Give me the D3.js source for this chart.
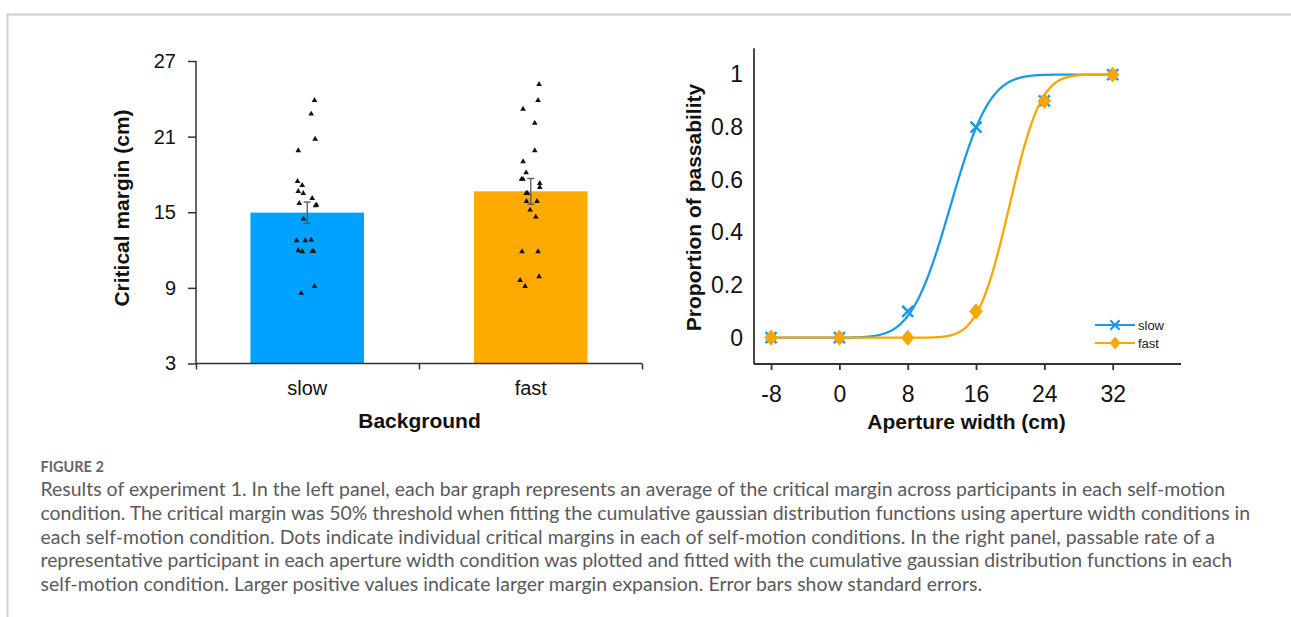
<!DOCTYPE html>
<html><head><meta charset="utf-8">
<script src="https://cdn.jsdelivr.net/npm/d3@7"></script>
<style>body{margin:0;background:#fff} svg{display:block}</style>
</head><body>
<svg id="c" width="1291" height="617"></svg>
<script>
// ---------- data ----------
const categories = ["slow", "fast"];
const meanMargin = [14.97, 16.66];
const seMargin = [0.84, 1.02];
const yTicksLeft = [3, 9, 15, 21, 27];

const slowDots = [23.88, 22.8, 20.8, 19.89, 17.46, 17.14, 16.66, 16.5, 16.1, 15.71, 15.53, 15.58, 14.47, 12.75, 12.75, 12.8, 11.96, 11.88, 11.9, 11.9, 9.13, 8.58];
const slowJitter = [0.064, 0.035, 0.070, -0.079, -0.085, -0.044, -0.079, -0.035, 0.044, -0.070, 0.073, 0.082, -0.033, -0.094, -0.018, 0.035, -0.079, -0.044, 0.044, 0.055, 0.064, -0.053];
const fastDots = [25.15, 23.88, 23.19, 22.08, 19.89, 19.02, 18.14, 17.62, 17.62, 17.3, 16.98, 16.5, 16.5, 15.87, 15.87, 15.18, 14.63, 11.88, 11.88, 9.9, 9.6, 9.13];
const fastJitter = [0.073, 0.064, -0.068, 0.035, 0.035, -0.068, -0.041, -0.082, -0.068, 0.079, 0.079, -0.041, -0.029, -0.038, 0.055, -0.006, 0.044, -0.077, 0.064, 0.073, -0.094, -0.050];

const apertures = [-8, 0, 8, 16, 24, 32];
const slowProp = [0, 0, 0.1, 0.8, 0.9, 1];
const fastProp = [0, 0, 0, 0.1, 0.9, 1];
const fitMean = [13.0, 19.9];   // cumulative gaussian fit: mean (slow, fast)
const fitSD = [3.6, 2.9];       // cumulative gaussian fit: sd (slow, fast)
const xTicksRight = [-8, 0, 8, 16, 24, 32];
const yTicksRight = [0, 0.2, 0.4, 0.6, 0.8, 1];

const captionTitle = "FIGURE 2";
const captionLines = [
  "Results of experiment 1. In the left panel, each bar graph represents an average of the critical margin across participants in each self-motion",
  "condition. The critical margin was 50% threshold when fitting the cumulative gaussian distribution functions using aperture width conditions in",
  "each self-motion condition. Dots indicate individual critical margins in each of self-motion conditions. In the right panel, passable rate of a",
  "representative participant in each aperture width condition was plotted and fitted with the cumulative gaussian distribution functions in each",
  "self-motion condition. Larger positive values indicate larger margin expansion. Error bars show standard errors."
];
const captionRight = [1225, 1250, 1215, 1232, 982];

// ---------- styles ----------
const BLUE_BAR = "#00a2ff", ORANGE_BAR = "#ffaa00";
const BLUE = "#1a9bea", ORANGE = "#f8a600";
const FONT = "'Liberation Sans', Arial, sans-serif";
const svg = d3.select("#c");

// frame
svg.append("path").attr("d", "M7.5,617 V14.5 H1291").attr("fill", "none").attr("stroke", "#cfcfcf").attr("stroke-width", 2);

// ---------- left panel ----------
const yL = d3.scaleLinear().domain([3, 27]).range([363.5, 61]);
const xL = d3.scaleBand().domain(categories).range([196, 642]).paddingInner(0.492).paddingOuter(0.2435);
const xLTick = d3.scaleLinear().domain([0, categories.length]).range([196, 642]);
const bw = xL.bandwidth();
const jit = d3.scaleLinear().domain([-0.5, 0.5]).range([-bw / 2, bw / 2]);
const barColors = [BLUE_BAR, ORANGE_BAR];

const gL = svg.append("g");
gL.selectAll("rect.bar").data(categories).join("rect")
  .attr("x", d => xL(d)).attr("width", bw)
  .attr("y", (d, i) => yL(meanMargin[i])).attr("height", (d, i) => yL(3) - yL(meanMargin[i]))
  .attr("fill", (d, i) => barColors[i]);

// error bars
categories.forEach((c, i) => {
  const cx = xL(c) + bw / 2;
  const g = gL.append("g").attr("stroke", "#555").attr("stroke-width", 1.3).attr("fill", "none");
  g.append("line").attr("x1", cx).attr("x2", cx).attr("y1", yL(meanMargin[i] - seMargin[i])).attr("y2", yL(meanMargin[i] + seMargin[i]));
  [meanMargin[i] - seMargin[i], meanMargin[i] + seMargin[i]].forEach(v => {
    g.append("line").attr("x1", cx - 3.5).attr("x2", cx + 3.5).attr("y1", yL(v)).attr("y2", yL(v));
  });
});

// dots
const tri = d3.symbol().type(d3.symbolTriangle).size(14);
[[slowDots, slowJitter], [fastDots, fastJitter]].forEach(([vals, jt], i) => {
  const cx = xL(categories[i]) + bw / 2;
  gL.selectAll(null).data(vals).join("path")
    .attr("d", tri)
    .attr("transform", (d, k) => `translate(${cx + jit(jt[k])},${yL(d)})`)
    .attr("fill", "#111");
});

// axes left
const axYL = gL.append("g").attr("transform", "translate(196,0)")
  .call(d3.axisLeft(yL).tickValues(yTicksLeft).tickSize(8).tickPadding(12).tickFormat(d => String(d)));
axYL.select(".domain").attr("d", `M0,${yL(27)}V${yL(3)}`);
const axXL = gL.append("g").attr("transform", `translate(0,${yL(3)})`)
  .call(d3.axisBottom(xLTick).tickValues([0, 1, 2]).tickSize(6).tickFormat(""));
axXL.select(".domain").attr("d", `M196,0H642`);
const axXLlab = gL.append("g").attr("transform", `translate(0,${yL(3)})`)
  .call(d3.axisBottom(xL).tickSize(0).tickPadding(17));
axXLlab.select(".domain").remove();
[axYL, axXL, axXLlab].forEach(a => {
  a.selectAll("text").attr("font-family", FONT).attr("font-size", 20).attr("fill", "#111");
  a.selectAll("line,.domain").attr("stroke", "#333").attr("stroke-width", 1.5);
});

gL.append("text").attr("transform", `translate(129,208) rotate(-90)`).attr("text-anchor", "middle")
  .attr("font-family", FONT).attr("font-weight", "bold").attr("font-size", 21).attr("fill", "#111")
  .text("Critical margin (cm)");
gL.append("text").attr("x", 419.5).attr("y", 428).attr("text-anchor", "middle")
  .attr("font-family", FONT).attr("font-weight", "bold").attr("font-size", 21).attr("fill", "#111")
  .text("Background");

// ---------- right panel ----------
const xR = d3.scaleLinear().domain([-10, 40]).range([754, 1181]);
const yR = d3.scaleLinear().domain([-0.1, 1.1]).range([364, 48.3]);
const gR = svg.append("g");

const axXR = gR.append("g").attr("transform", `translate(0,${yR(-0.1)})`)
  .call(d3.axisBottom(xR).tickValues(xTicksRight).tickSize(6).tickPadding(16).tickFormat(d => String(d)));
axXR.select(".domain").attr("d", `M${xR(-10)},0H${xR(40)}`);
const axYR = gR.append("g").attr("transform", `translate(${xR(-10)},0)`)
  .call(d3.axisLeft(yR).tickValues(yTicksRight).tickSize(0).tickPadding(11).tickFormat(d => String(d)));
axYR.select(".domain").attr("d", `M0,${yR(1.1)}V${yR(-0.1)}`);
[axXR, axYR].forEach(a => {
  a.selectAll("text").attr("font-family", FONT).attr("font-size", 23).attr("fill", "#111");
  a.selectAll("line,.domain").attr("stroke", "#333").attr("stroke-width", 1.8);
});

// normal CDF
function erf(x) {
  const s = Math.sign(x); x = Math.abs(x);
  const t = 1 / (1 + 0.3275911 * x);
  const y = 1 - (((((1.061405429 * t - 1.453152027) * t) + 1.421413741) * t - 0.284496736) * t + 0.254829592) * t * Math.exp(-x * x);
  return s * y;
}
const ncdf = (x, m, s) => 0.5 * (1 + erf((x - m) / (s * Math.SQRT2)));
const line = d3.line().x(d => xR(d[0])).y(d => yR(d[1]));
const curveX = d3.range(apertures[0], apertures[apertures.length - 1] + 0.001, 0.1);

const crossPath = "M-5.5,-5.5L5.5,5.5M-5.5,5.5L5.5,-5.5";
const diamondPath = "M0,-7.5L6.2,0L0,7.5L-6.2,0Z";

const series = [
  { prop: slowProp, color: BLUE, k: 0 },
  { prop: fastProp, color: ORANGE, k: 1 }
];
series.forEach(s => {
  gR.append("path").datum(curveX.map(x => [x, ncdf(x, fitMean[s.k], fitSD[s.k])]))
    .attr("d", line).attr("fill", "none").attr("stroke", s.color).attr("stroke-width", 2.3);
  gR.selectAll(null).data(apertures).join("path")
    .attr("transform", (d, i) => `translate(${xR(d)},${yR(s.prop[i])})`)
    .attr("d", s.k === 0 ? crossPath : diamondPath)
    .attr("fill", s.k === 0 ? "none" : s.color)
    .attr("stroke", s.color).attr("stroke-width", s.k === 0 ? 2.5 : 1);
});

// legend
const legendNames = ["slow", "fast"];
legendNames.forEach((n, i) => {
  const ly = 325 + i * 18;
  const g = gR.append("g");
  g.append("line").attr("x1", 1095).attr("x2", 1135).attr("y1", ly).attr("y2", ly).attr("stroke", series[i].color).attr("stroke-width", 2.2);
  g.append("path").attr("transform", `translate(1115,${ly}) scale(${i === 0 ? 0.85 : 0.8})`)
    .attr("d", i === 0 ? crossPath : diamondPath)
    .attr("fill", i === 0 ? "none" : series[i].color).attr("stroke", series[i].color).attr("stroke-width", i === 0 ? 2.6 : 1);
  g.append("text").attr("x", 1138).attr("y", ly + 4.5).attr("font-family", FONT).attr("font-size", 13).attr("fill", "#222").text(n);
});

gR.append("text").attr("x", 966.5).attr("y", 428.5).attr("text-anchor", "middle")
  .attr("font-family", FONT).attr("font-weight", "bold").attr("font-size", 21).attr("fill", "#111")
  .text("Aperture width (cm)");
gR.append("text").attr("transform", `translate(701,207.5) rotate(-90)`).attr("text-anchor", "middle")
  .attr("font-family", FONT).attr("font-weight", "bold").attr("font-size", 21).attr("fill", "#111")
  .text("Proportion of passability");

// ---------- caption ----------
const CAP_FONT = "Lato, 'Open Sans', sans-serif";
svg.append("text").attr("x", 40.5).attr("y", 471.5).attr("font-family", CAP_FONT).attr("font-weight", 700)
  .attr("font-size", 14.5).attr("fill", "#666").text(captionTitle);
const capX = 40.5;
const capTexts = svg.selectAll("text.cap").data(captionLines).join("text").attr("class", "cap")
  .attr("x", capX).attr("y", (d, i) => 496 + i * 23.75)
  .attr("font-family", CAP_FONT).attr("font-size", 16).attr("fill", "#5a5a5a").text(d => d);
// fit font-size to measured line widths
const ratios = capTexts.nodes().slice(0, 4).map((n, i) => (captionRight[i] - capX) / n.getComputedTextLength());
const fs = 16 * d3.median(ratios);
capTexts.attr("font-size", fs);
capTexts.each(function (d, i) {
  const w = this.getComputedTextLength();
  const target = captionRight[i] - capX;
  if (Math.abs(w - target) / target < 0.03) d3.select(this).attr("textLength", target).attr("lengthAdjust", "spacing");
});
</script>
</body></html>
